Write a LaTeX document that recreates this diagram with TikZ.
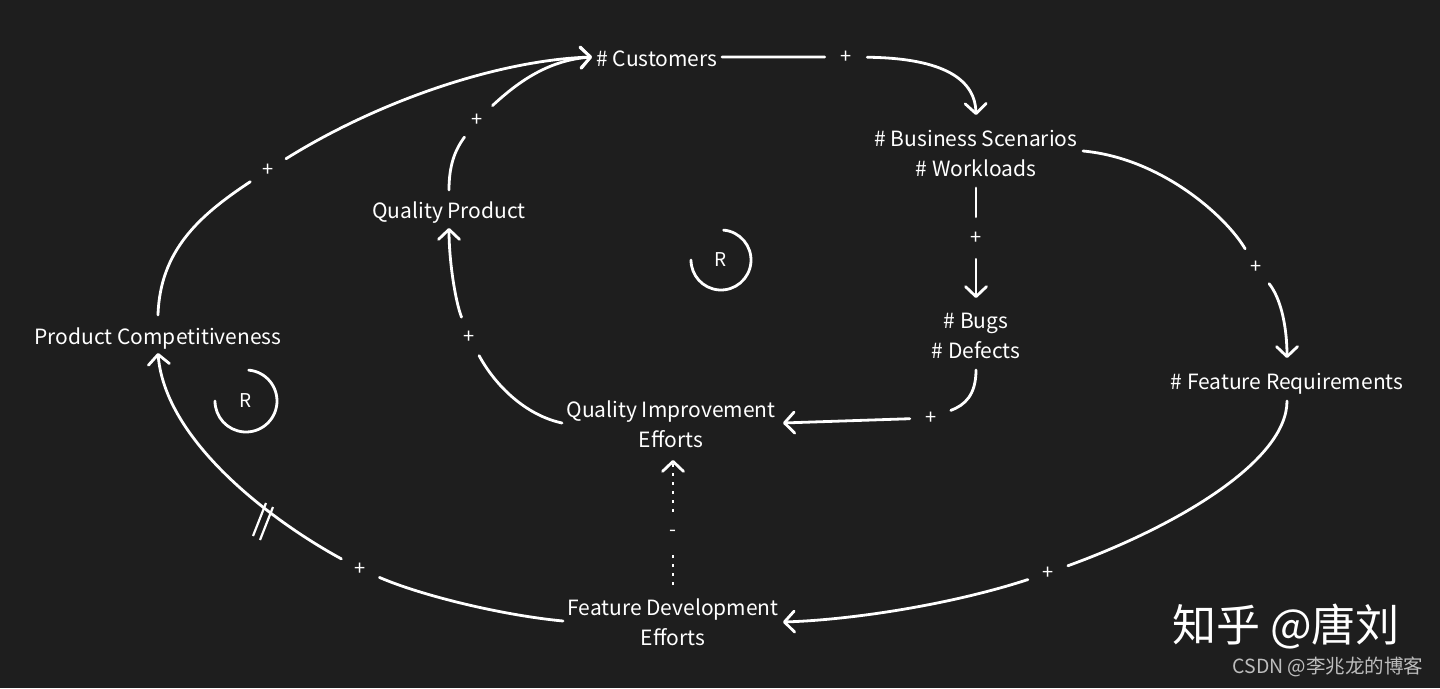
\documentclass[tikz,border=0pt]{standalone}
\usepackage{fontspec}
\setmainfont{Noto Sans CJK SC}
\usetikzlibrary{arrows.meta,calc}
\definecolor{bg}{HTML}{1E1E1E}
\definecolor{wmgray}{HTML}{BDBDBD}
\begin{document}
\begin{tikzpicture}[x=1pt,y=-1pt,
  var/.style={text=white, font=\fontsize{21}{30}\selectfont, align=center, inner sep=0pt},
  lbl/.style={text=white, circle, minimum size=42pt, inner sep=0pt, font=\fontsize{20}{20}\selectfont},
  conn/.style={draw=white, line width=2.8pt, line cap=round,
    -{Straight Barb[length=10pt,width=21pt,line width=2.8pt,round]}},
  dotconn/.style={conn, line cap=butt, dash pattern=on 3pt off 6pt},
  ring/.style={draw=white, line width=2.8pt, line cap=round},
  rlabel/.style={text=white, font=\fontsize{19}{19}\selectfont, inner sep=0pt}
]
\useasboundingbox (0,0) rectangle (1440,688);
\fill[bg] (0,0) rectangle (1440,688);

% variables
\node[var] (cust) at (657,59) {\# Customers};
\node[var] (biz) at (976,153) {\# Business Scenarios\\\# Workloads};
\node[var] (qp) at (449,213) {Quality Product};
\node[var] (pc) at (158,339) {Product Competitiveness};
\node[var] (bugs) at (976,336) {\# Bugs\\\# Defects};
\node[var] (feat) at (1287,384) {\# Feature Requirements};
\node[var] (qie) at (671,424) {Quality Improvement\\Efforts};
\node[var] (fde) at (673,622) {Feature Development\\Efforts};

% polarity labels
\node[lbl] (l1) at (846,57) {+};
\node[lbl] (l2) at (1256,267) {+};
\node[lbl] (l3) at (976,238) {+};
\node[lbl] (l4) at (931,418) {+};
\node[lbl] (l5) at (469,337) {+};
\node[lbl] (l6) at (477,120) {+};
\node[lbl] (l7) at (268,170) {+};
\node[lbl] (l8) at (1048,573) {+};
\node[lbl] (l9) at (360,569) {+};
\node[lbl] (l10) at (673,533) {-};

% loop markers
\node[rlabel] (r1) at (721,260) {R};
\node[rlabel] (r2) at (246,401) {R};
\draw[ring] (r1.center) ++(-85:30) arc[start angle=-85,end angle=180,radius=30];
\draw[ring] (r2.center) ++(-85:31) arc[start angle=-85,end angle=180,radius=31];

% connectors
\draw[conn] ($(cust)+(65,-2)$) -- (l1) .. controls (935,58) and (975,75) .. ($(biz)+(0,-38)$);
\draw[conn] ($(biz)+(107,-2)$) .. controls (1160,158) and (1225,215) .. (l2)
  .. controls (1282,300) and (1287,330) .. ($(feat)+(0,-26)$);
\draw[conn] ($(biz)+(0,35)$) -- (l3) -- ($(bugs)+(0,-38)$);
\draw[conn] ($(bugs)+(0,34)$) .. controls (976,395) and (965,405) .. (l4) -- ($(qie)+(112,-1)$);
\draw[conn] ($(qie)+(-109,-1)$) .. controls (525,415) and (495,385) .. (l5)
  .. controls (455,300) and (449,260) .. ($(qp)+(0,15)$);
\draw[conn] ($(qp)+(0,-23)$) .. controls (449,165) and (455,150) .. (l6)
  .. controls (520,80) and (550,60) .. ($(cust)+(-65,-2)$);
\draw[conn] ($(pc)+(0,-24)$) .. controls (160,250) and (200,215) .. (l7)
  .. controls (380,100) and (500,60) .. ($(cust)+(-65,-2)$);
\draw[conn] ($(feat)+(0,17)$) .. controls (1287,460) and (1180,525) .. (l8)
  .. controls (950,605) and (850,620) .. ($(fde)+(110,0)$);
\draw[conn] ($(fde)+(-110,-1)$) .. controls (500,615) and (420,595) .. (l9)
  .. controls (270,520) and (165,440) .. ($(pc)+(0,14)$);
\draw[dotconn] ($(fde)+(0,-37)$) -- (l10) -- ($(qie)+(2,36)$);

% delay mark
\draw[white, line width=2.2pt] (266,503) -- (253,536) (273,507) -- (260,540);

% watermarks
\node[text=white, font=\fontsize{44}{44}\selectfont, inner sep=0pt] (wm1) at (1286,627) {知乎 @唐刘};
\node[text=wmgray, font=\fontsize{19.5}{19.5}\selectfont, inner sep=0pt] (wm2) at (1328,667) {CSDN @李兆龙的博客};
\end{tikzpicture}
\end{document}
